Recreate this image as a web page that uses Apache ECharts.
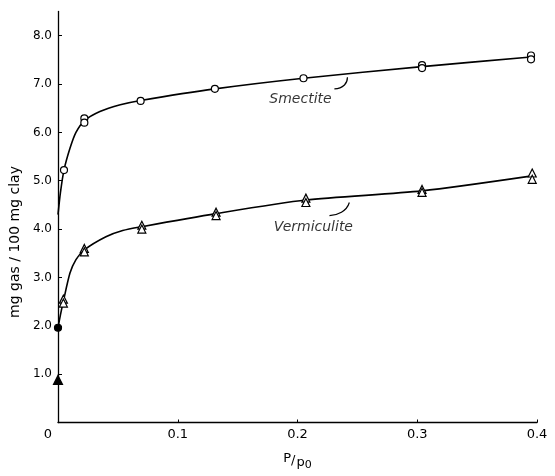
<!DOCTYPE html>
<html>
<head>
<meta charset="utf-8">
<script src="https://cdn.jsdelivr.net/npm/echarts@6/dist/echarts.min.js"></script>
<style>
  html, body { margin: 0; padding: 0; background: #fff; }
  #chart { width: 555px; height: 476px; }
</style>
</head>
<body>
<div id="chart"></div>
<script>
    // measured points (P/p0, mg gas / 100 mg clay)
    var smectitePts = [
        [0.005, 5.22], [0.022, 6.29], [0.022, 6.20], [0.069, 6.65], [0.131, 6.90],
        [0.205, 7.12], [0.304, 7.39], [0.304, 7.33], [0.395, 7.59], [0.395, 7.51]
    ];
    var vermiculitePts = [
        [0.0045, 2.55], [0.0045, 2.47], [0.022, 3.60], [0.022, 3.53], [0.070, 4.08],
        [0.070, 4.00], [0.132, 4.35], [0.132, 4.28], [0.207, 4.64], [0.207, 4.55],
        [0.304, 4.82], [0.304, 4.76], [0.396, 5.16], [0.396, 5.03]
    ];
    var filledCircle = [[0, 1.96]];
    var filledTriangle = [[0, 0.88]];

    // hand-drawn curves
    var smectiteCurve = [
        [0, 4.3], [0.002, 4.75], [0.005, 5.22], [0.010, 5.67], [0.015, 6.00],
        [0.022, 6.24], [0.035, 6.43], [0.052, 6.57], [0.069, 6.66], [0.131, 6.90],
        [0.205, 7.12], [0.304, 7.36], [0.395, 7.56]
    ];
    var vermiculiteCurve = [
        [0, 1.96], [0.002, 2.22], [0.0045, 2.51], [0.010, 3.09], [0.015, 3.37],
        [0.022, 3.57], [0.040, 3.84], [0.054, 3.97], [0.070, 4.05], [0.132, 4.32],
        [0.207, 4.60], [0.304, 4.79], [0.396, 5.10]
    ];

    // labels and leader lines
    var curveLabels = [
        {name: 'Smectite', value: [0.2025, 6.69]},
        {name: 'Vermiculite', value: [0.2133, 4.04]}
    ];
    var smectiteLeader = [[0.2308, 6.90], [0.2392, 6.98], [0.2417, 7.14]];
    var vermiculiteLeader = [[0.2267, 4.28], [0.2367, 4.35], [0.2433, 4.55]];

    var xTicks = [0, 0.1, 0.2, 0.3, 0.4];
    var yTicks = [1, 2, 3, 4, 5, 6, 7, 8];

    var chart = echarts.init(document.getElementById('chart'));

    function curve(data) {
        return {
            type: 'line',
            data: data,
            smooth: 0.25,
            showSymbol: false,
            symbol: 'none',
            silent: true,
            z: 2,
            lineStyle: {color: '#000', width: 1.6}
        };
    }

    function leader(data) {
        return {
            type: 'line',
            data: data,
            smooth: 0.6,
            symbol: 'none',
            silent: true,
            z: 2,
            lineStyle: {color: '#000', width: 1.2}
        };
    }

    function marks(data, symbol, size, fill) {
        return {
            type: 'scatter',
            data: data,
            symbol: symbol,
            symbolSize: size,
            z: 5,
            itemStyle: {color: fill, borderColor: '#000', borderWidth: 1.2, opacity: 1}
        };
    }

    var option = {
        backgroundColor: '#fff',
        animation: false,
        grid: {left: 58, right: 18, top: 11.5, bottom: 48},
        xAxis: {
            type: 'value',
            min: 0,
            max: 0.4,
            interval: 0.1,
            name: '{a|P}{b|/}{c|p}{d|0}',
            nameLocation: 'middle',
            nameGap: 30,
            nameTextStyle: {
                rich: {
                    a: {fontFamily: 'DejaVu Sans', fontSize: 13, color: '#000', padding: [0, 0, 8, 0]},
                    b: {fontFamily: 'DejaVu Sans', fontSize: 13, color: '#000', padding: [0, 1, 4, 0]},
                    c: {fontFamily: 'DejaVu Sans', fontSize: 13, color: '#000'},
                    d: {fontFamily: 'DejaVu Sans', fontSize: 11, color: '#000', padding: [5, 0, 0, 0]}
                }
            },
            splitLine: {show: false},
            axisLine: {show: true, onZero: false, lineStyle: {color: '#000', width: 1.3}},
            axisTick: {show: true, inside: true, length: 3, customValues: xTicks.slice(1), lineStyle: {color: '#000'}},
            axisLabel: {
                customValues: xTicks,
                margin: 6,
                color: '#000',
                fontFamily: 'DejaVu Sans',
                fontSize: 13,
                formatter: function (v) {
                    return v === 0 ? '{z|0}' : v.toFixed(1);
                },
                rich: {
                    z: {fontFamily: 'DejaVu Sans', fontSize: 13, color: '#000', padding: [0, 20, 0, 0]}
                }
            }
        },
        yAxis: {
            type: 'value',
            min: 0,
            max: 8.5,
            interval: 1,
            name: 'mg gas / 100 mg clay',
            nameLocation: 'middle',
            nameGap: 36,
            nameTextStyle: {
                fontFamily: 'DejaVu Sans',
                fontSize: 14,
                color: '#000',
                padding: [0, 50, 0, 0]
            },
            splitLine: {show: false},
            axisLine: {show: true, onZero: false, lineStyle: {color: '#000', width: 1.3}},
            axisTick: {show: true, inside: true, length: 4, customValues: yTicks, lineStyle: {color: '#000'}},
            axisLabel: {
                customValues: yTicks,
                margin: 6,
                color: '#000',
                fontFamily: 'DejaVu Sans',
                fontSize: 12,
                formatter: function (v) {
                    return v.toFixed(1);
                }
            }
        },
        series: [
            curve(smectiteCurve),
            curve(vermiculiteCurve),
            leader(smectiteLeader),
            leader(vermiculiteLeader),
            marks(smectitePts, 'circle', 7, '#fff'),
            marks(vermiculitePts, 'triangle', 8, '#fff'),
            marks(filledCircle, 'circle', 7, '#000'),
            marks(filledTriangle, 'triangle', 9, '#000'),
            {
                type: 'scatter',
                data: curveLabels,
                symbolSize: 0,
                silent: true,
                z: 6,
                label: {
                    show: true,
                    position: 'inside',
                    formatter: '{b}',
                    fontFamily: 'DejaVu Sans',
                    fontStyle: 'italic',
                    fontSize: 14,
                    color: '#000'
                }
            }
        ]
    };

    chart.setOption(option);
</script>
</body>
</html>
